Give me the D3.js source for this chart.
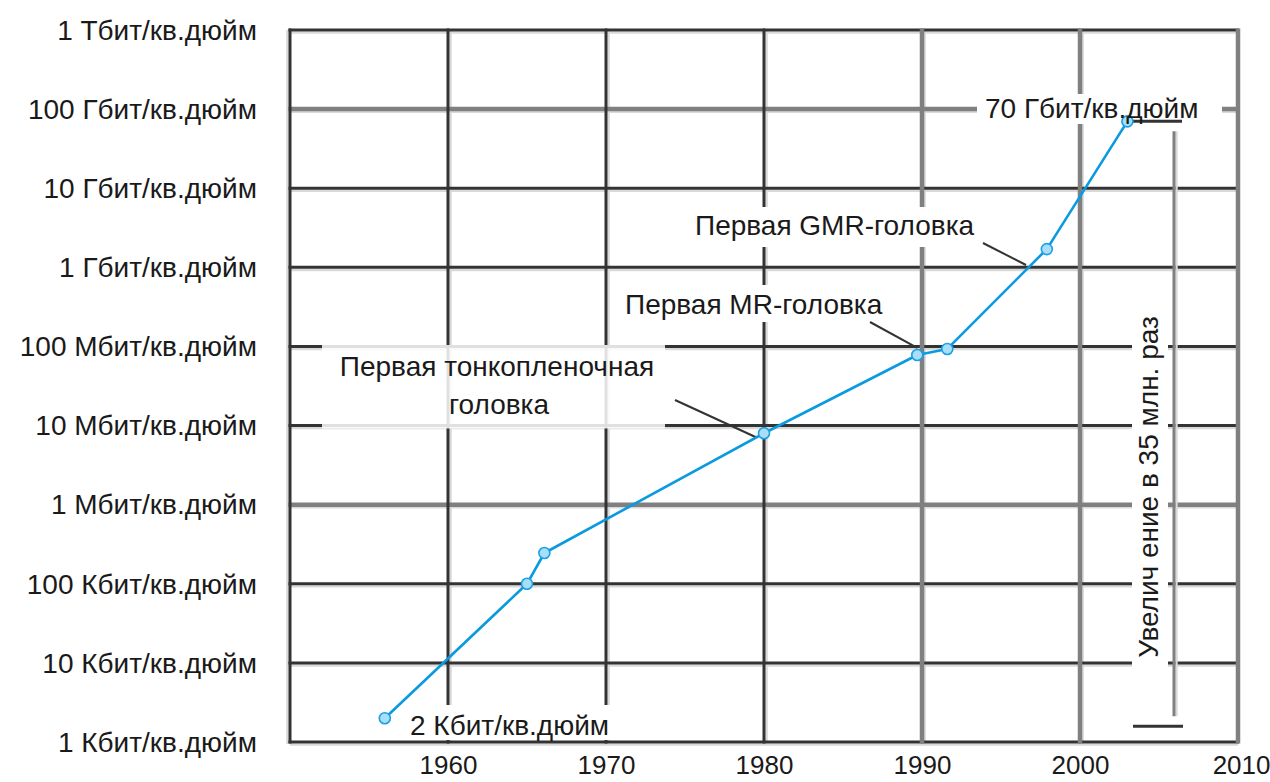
<!DOCTYPE html>
<html>
<head>
<meta charset="utf-8">
<script src="https://cdn.jsdelivr.net/npm/d3@7"></script>
<style>
  html, body { margin: 0; padding: 0; background: #fff; }
  svg { display: block; }
  text { font-family: "Liberation Sans", Arial, sans-serif; fill: #1a1a1a; }
</style>
</head>
<body>
<svg id="chart" width="1270" height="782"></svg>
<script>
// Areal density of hard-disk recording, 1956–2003 (log scale)
const xTickYears = [1960, 1970, 1980, 1990, 2000, 2010];
const yTickValues = [1e3, 1e4, 1e5, 1e6, 1e7, 1e8, 1e9, 1e10, 1e11, 1e12];
const yTickLabels = [
  "1 Кбит/кв.дюйм", "10 Кбит/кв.дюйм", "100 Кбит/кв.дюйм",
  "1 Мбит/кв.дюйм", "10 Мбит/кв.дюйм", "100 Мбит/кв.дюйм",
  "1 Гбит/кв.дюйм", "10 Гбит/кв.дюйм", "100 Гбит/кв.дюйм",
  "1 Тбит/кв.дюйм"
];
const pointYears   = [1956, 1965, 1966.1, 1980, 1989.7, 1991.6, 1997.9, 2003];
const pointDensity = [2e3, 1e5, 2.45e5, 8e6, 7.8e7, 9.3e7, 1.7e9, 7e10];

const startLabel = "2 Кбит/кв.дюйм";
const endLabel = "70 Гбит/кв.дюйм";
const growthLabel = "Увелич ение в 35 млн. раз";
const thinFilmLabel = ["Первая тонкопленочная", "головка"];
const mrLabel = "Первая MR-головка";
const gmrLabel = "Первая GMR-головка";

const svg = d3.select("#chart");
const x = d3.scaleLinear().domain([1950, 2010]).range([290, 1238]);
const y = d3.scaleLog().domain([1e3, 1e12]).range([742, 30]);

const DARK = "#333333", GRAY = "#808080", SHADOW = "#d9d9d9";
const grayYears = new Set([1990, 2000, 2010]);
const grayValues = new Set([1e6, 1e11]);

const grid = svg.append("g");
const [x0, x1] = x.range();
const [yb, yt] = y.range();

// light offset shadows under the grid
grid.selectAll(".hs").data(yTickValues).join("line")
  .attr("x1", x0).attr("x2", x1)
  .attr("y1", d => y(d) + 2.6).attr("y2", d => y(d) + 2.6)
  .attr("stroke", SHADOW).attr("stroke-width", 2.4);
grid.selectAll(".vs").data(xTickYears.filter(d => d < 2010)).join("line")
  .attr("x1", d => x(d) + 2.6).attr("x2", d => x(d) + 2.6)
  .attr("y1", yt).attr("y2", yb)
  .attr("stroke", SHADOW).attr("stroke-width", 2.4);
grid.append("line").attr("x1", x0 - 2.6).attr("x2", x0 - 2.6)
  .attr("y1", yt).attr("y2", yb + 2)
  .attr("stroke", SHADOW).attr("stroke-width", 2.4);

// horizontal decade lines
grid.selectAll(".h").data(yTickValues).join("line")
  .attr("x1", x0 - 1.5).attr("x2", x1 + 1)
  .attr("y1", d => y(d)).attr("y2", d => y(d))
  .attr("stroke", d => grayValues.has(d) ? GRAY : DARK)
  .attr("stroke-width", d => grayValues.has(d) ? 4.5 : 3);
// vertical year lines, including left border at 1950
grid.selectAll(".v").data([1950, ...xTickYears]).join("line")
  .attr("x1", d => x(d)).attr("x2", d => x(d))
  .attr("y1", yt - 1.5).attr("y2", yb + 1.5)
  .attr("stroke", d => grayYears.has(d) ? GRAY : DARK)
  .attr("stroke-width", d => grayYears.has(d) ? 4.5 : 3);

// white backgrounds behind in-plot labels
const boxes = svg.append("g");
function box(xa, ya, xb, yb2, op) {
  boxes.append("rect").attr("x", xa).attr("y", ya)
    .attr("width", xb - xa).attr("height", yb2 - ya)
    .attr("fill", "#fff").attr("fill-opacity", op);
}
box(322, 345, 665, 428.5, 0.85);
box(620, 285, 890, 322, 1);
box(690, 207, 975, 247, 1);
box(977, 94, 1222, 124, 1);
box(405, 705, 620, 740, 1);
box(1132, 308, 1168, 668, 1);

// leader lines from labels to the curve
const leaders = svg.append("g").attr("stroke", "#333").attr("stroke-width", 2);
const pt = i => [x(pointYears[i]), y(pointDensity[i])];
leaders.append("line").attr("x1", 675).attr("y1", 400)
  .attr("x2", pt(3)[0] - 8).attr("y2", pt(3)[1] + 4);
leaders.append("line").attr("x1", 870).attr("y1", 322)
  .attr("x2", pt(4)[0]).attr("y2", pt(4)[1] - 7);
leaders.append("line").attr("x1", 983).attr("y1", 243)
  .attr("x2", 1026).attr("y2", 265);

// bracket spanning the overall growth
const bx = 1174;
const yTop = y(pointDensity[pointDensity.length - 1]);
const yBot = y(pointDensity[0]);
const bracket = svg.append("g");
bracket.append("line").attr("x1", bx + 2.5).attr("x2", bx + 2.5)
  .attr("y1", yTop + 10).attr("y2", yBot - 2)
  .attr("stroke", SHADOW).attr("stroke-width", 2.4);
bracket.append("line").attr("x1", bx).attr("x2", bx)
  .attr("y1", yTop + 10).attr("y2", yBot - 2)
  .attr("stroke", GRAY).attr("stroke-width", 3);
bracket.append("line").attr("x1", x(pointYears[pointYears.length - 1]) + 4).attr("x2", 1182)
  .attr("y1", yTop).attr("y2", yTop)
  .attr("stroke", "#333").attr("stroke-width", 3);
bracket.append("line").attr("x1", 1133).attr("x2", 1183)
  .attr("y1", yBot + 8).attr("y2", yBot + 8)
  .attr("stroke", "#333").attr("stroke-width", 3);

// density curve and markers
const line = d3.line().x(d => x(d[0])).y(d => y(d[1]));
const pts = pointYears.map((yr, i) => [yr, pointDensity[i]]);
svg.append("path").datum(pts).attr("d", line)
  .attr("fill", "none").attr("stroke", "#0a9ae0").attr("stroke-width", 2.6)
  .attr("stroke-linejoin", "round");
svg.append("g").selectAll("circle").data(pts).join("circle")
  .attr("cx", d => x(d[0])).attr("cy", d => y(d[1])).attr("r", 5.5)
  .attr("fill", "#a8def8").attr("stroke", "#1aa0e6").attr("stroke-width", 1.6);

// axes
const FS = 28;
const yAxis = svg.append("g").attr("transform", "translate(257,0)")
  .call(d3.axisLeft(y).tickValues(yTickValues).tickSize(0).tickPadding(0)
    .tickFormat((d, i) => yTickLabels[i]));
yAxis.select(".domain").remove();
yAxis.selectAll("text").attr("font-size", FS).attr("dy", "0.33em")
  .style("font-family", "'Liberation Sans', Arial, sans-serif").attr("fill", "#1a1a1a");

const xAxis = svg.append("g").attr("transform", `translate(0,${yb})`)
  .call(d3.axisBottom(x).tickValues(xTickYears).tickSize(0).tickPadding(0)
    .tickFormat(d3.format("d")));
xAxis.select(".domain").remove();
xAxis.selectAll("text").attr("font-size", 26).attr("y", 0).attr("dy", 0)
  .attr("transform", "translate(0,32)")
  .style("font-family", "'Liberation Sans', Arial, sans-serif").attr("fill", "#1a1a1a");
xAxis.selectAll(".tick").filter(d => d === 2010).select("text")
  .attr("text-anchor", "end").attr("transform", "translate(32,32)");

// in-plot labels
const labels = svg.append("g").attr("font-size", FS);
labels.append("text").attr("x", 497).attr("y", 376).attr("text-anchor", "middle").text(thinFilmLabel[0]);
labels.append("text").attr("x", 499).attr("y", 414).attr("text-anchor", "middle").text(thinFilmLabel[1]);
labels.append("text").attr("x", 625).attr("y", 314).text(mrLabel);
labels.append("text").attr("x", 695).attr("y", 235).text(gmrLabel);
labels.append("text").attr("x", 985).attr("y", 118).text(endLabel);
labels.append("text").attr("x", 410).attr("y", 735).text(startLabel);
labels.append("text").attr("transform", "translate(1158,487) rotate(-90)")
  .attr("text-anchor", "middle").text(growthLabel);
</script>
</body>
</html>
